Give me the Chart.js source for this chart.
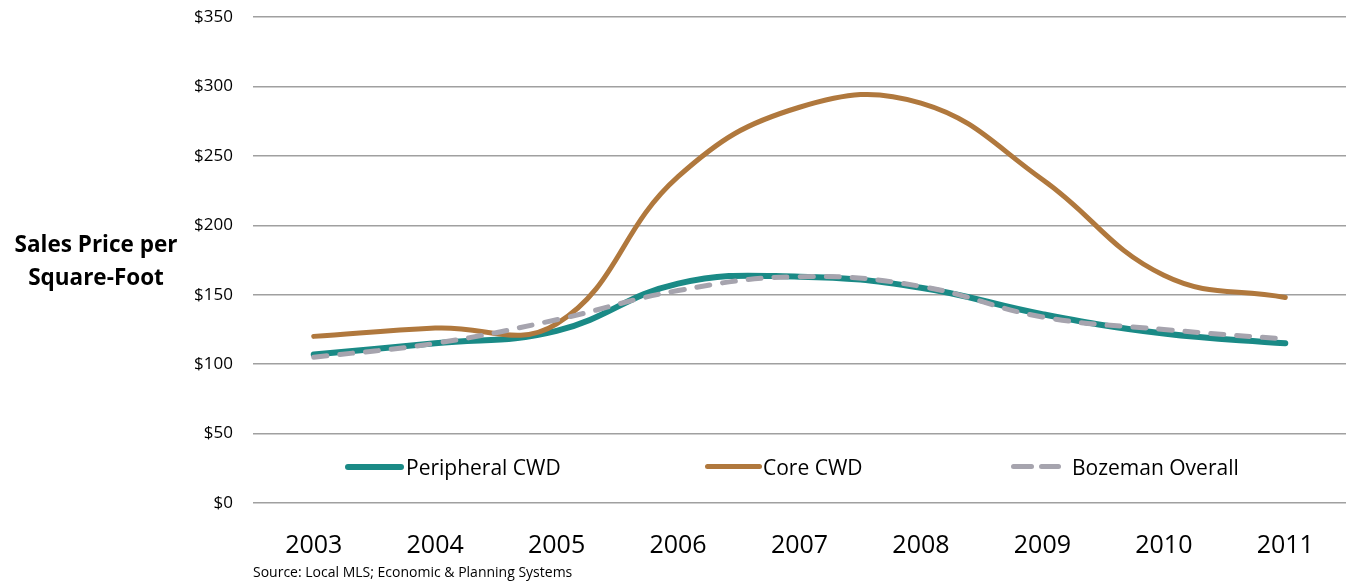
<!DOCTYPE html>
<html>
<head>
<meta charset="utf-8">
<script src="https://cdn.jsdelivr.net/npm/chart.js@4"></script>
<style>
    html, body { margin: 0; padding: 0; background: #fff; }
    #wrap { position: relative; width: 1349px; height: 584px; font-family: 'Open Sans', sans-serif; color: #000; }
    #chart { position: absolute; left: 0; top: 0; }
    .axisTitle { position: absolute; left: 0; width: 192px; text-align: center; font-weight: bold; font-size: 22.5px; line-height: 33px; top: 227px; }
    .source { position: absolute; left: 253px; top: 562px; font-size: 14px; }
    .legendItem { position: absolute; top: 453px; font-size: 21px; line-height: 28px; }
    .swatch { position: absolute; top: 464px; height: 6px; border-radius: 3px; }
</style>
</head>
<body>
<div id="wrap">
    <canvas id="chart" width="1349" height="584"></canvas>
    <div class="axisTitle">Sales Price per<br>Square-Foot</div>

    <!-- legend (sits inside the plot like the original) -->
    <div class="swatch" style="left:345px; width:59px; background:#1a8a86;"></div>
    <div class="legendItem" style="left:406px;">Peripheral CWD</div>
    <div class="swatch" style="left:705px; width:57px; background:#b0783d; height:5px;"></div>
    <div class="legendItem" style="left:763px;">Core CWD</div>
    <div class="swatch" style="left:1011px; width:23px; background:#a6a4ae; height:5px;"></div>
    <div class="swatch" style="left:1039px; width:22px; background:#a6a4ae; height:5px;"></div>
    <div class="legendItem" style="left:1072px;">Bozeman Overall</div>

    <div class="source">Source: Local MLS; Economic &amp; Planning Systems</div>
</div>

<script>
// years along the bottom
let years = ['2003', '2004', '2005', '2006', '2007', '2008', '2009', '2010', '2011'];

// price per square foot
let peripheral = [107, 115, 124, 158, 163, 155, 136, 122, 115];
let core       = [120, 126, 129, 235, 285, 288, 233, 164, 148];
let bozeman    = [105, 115, 132, 153, 163, 156, 134, 125, 118];

// y axis ticks ($0 .. $350)
let yTicks = [0, 50, 100, 150, 200, 250, 300, 350];

let font = "'Open Sans', sans-serif";

new Chart(document.getElementById('chart'), {
    type: 'line',
    data: {
        labels: years,
        datasets: [
            {
                label: 'Peripheral CWD',
                data: peripheral,
                borderColor: '#1a8a86',
                borderWidth: 6,
                order: 2
            },
            {
                label: 'Core CWD',
                data: core,
                borderColor: '#b0783d',
                borderWidth: 5,
                order: 1
            },
            {
                label: 'Bozeman Overall',
                data: bozeman,
                borderColor: '#a6a4ae',
                borderWidth: 5,
                borderDash: [13, 13],
                order: 0
            }
        ]
    },
    options: {
        responsive: false,
        animation: false,
        layout: { padding: { top: 0, right: 3, left: 0, bottom: 0 } },
        elements: {
            line: { tension: 0.42, borderCapStyle: 'round', borderJoinStyle: 'round', fill: false },
            point: { radius: 0 }
        },
        plugins: {
            legend: { display: false },
            tooltip: { enabled: false }
        },
        scales: {
            x: {
                offset: true,
                grid: { display: false },
                border: { display: false },
                ticks: { color: '#000', font: { family: font, size: 25 }, padding: 20 },
                afterFit: function(scale) { scale.height = 81; }
            },
            y: {
                min: 0,
                max: 350,
                grid: { color: '#a0a0a0', lineWidth: 1.5, drawTicks: false },
                border: { display: false },
                afterBuildTicks: function(scale) {
                    scale.ticks = yTicks.map(function(v) { return { value: v }; });
                },
                ticks: {
                    color: '#000',
                    font: { family: font, size: 17 },
                    padding: 20,
                    callback: function(v) { return '$' + v; }
                },
                afterFit: function(scale) {
                    // keep the plot edges where the original has them
                    scale.width = 253;
                    scale.paddingTop = 17;
                    scale.paddingBottom = 0;
                }
            }
        }
    }
});
</script>
</body>
</html>
